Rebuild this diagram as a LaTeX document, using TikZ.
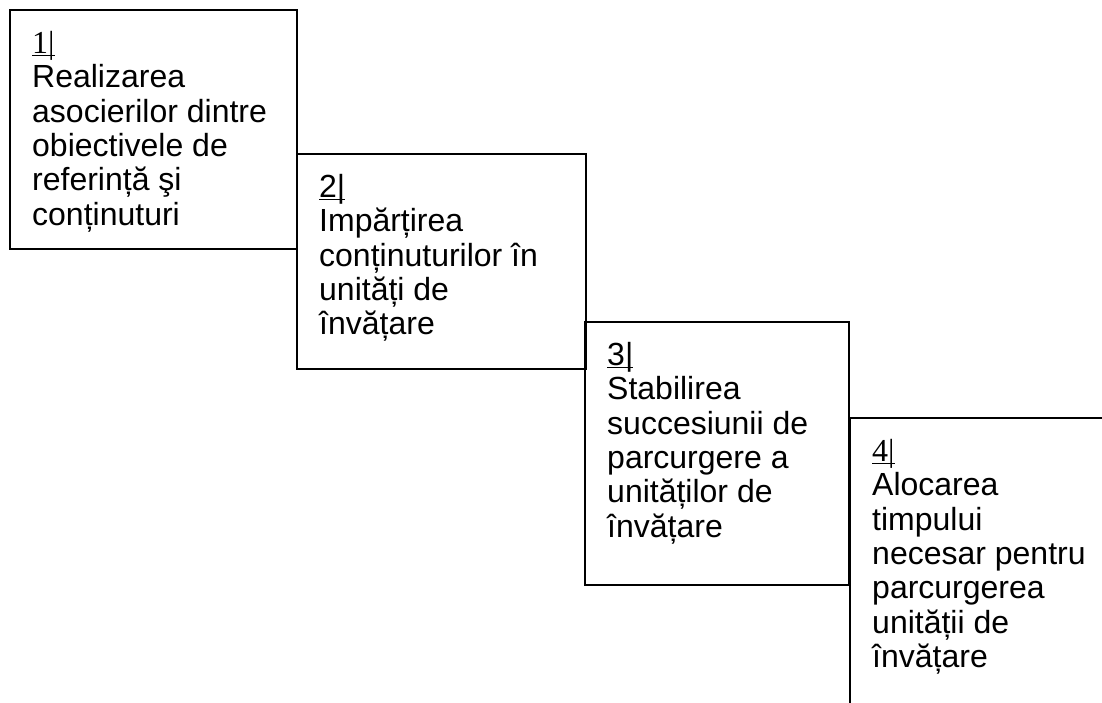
\documentclass[tikz,border=0pt]{standalone}
\usepackage{fontspec}
\setmainfont{Liberation Sans}
\newfontfamily\numserif{Liberation Serif}
\usetikzlibrary{positioning}

% number of a step, underlined close to the baseline
\newcommand{\stepno}[1]{\setbox0\hbox{#1}\rlap{\rule[-3pt]{\wd0}{1.5pt}}\box0}

\tikzset{
  stepbox/.style={draw, line width=1.8pt, anchor=north west, inner sep=0pt, outer sep=0pt},
  steptext/.style={align=left, inner sep=0pt, font=\fontsize{32}{34.4}\selectfont},
}

\begin{document}
\begin{tikzpicture}[x=1pt,y=1pt]
	\useasboundingbox (0,0) rectangle (1102,-702);
	\clip (0,0) rectangle (1102,-702);
	% the four boxes, as a staircase
	\node[stepbox, minimum width=287pt, minimum height=239pt] (b1) at (10,-10) {};
	\node[stepbox, minimum width=289pt, minimum height=215pt] (b2) at (297,-154) {};
	\node[stepbox, minimum width=264pt, minimum height=263pt] (b3) at (585,-322) {};
	\node[stepbox, minimum width=300pt, minimum height=320pt] (b4) at (850,-418) {};
	% texts
	\node[steptext, below right=19pt and 22pt of b1.north west] (t1)
		{\strut\stepno{\numserif 1|}\\Realizarea\\asocierilor dintre\\obiectivele de\\referință şi\\conținuturi};
	\node[steptext, below right=19pt and 22pt of b2.north west] (t2)
		{\strut\stepno{2|}\\Impărțirea\\conținuturilor în\\unități de\\învățare};
	\node[steptext, below right=19pt and 22pt of b3.north west] (t3)
		{\strut\stepno{3|}\\Stabilirea\\succesiunii de\\parcurgere a\\unităților de\\învățare};
	\node[steptext, below right=19pt and 22pt of b4.north west] (t4)
		{\strut\stepno{\numserif 4|}\\Alocarea\\timpului\\necesar pentru\\parcurgerea\\unității de\\învățare};
\end{tikzpicture}
\end{document}
